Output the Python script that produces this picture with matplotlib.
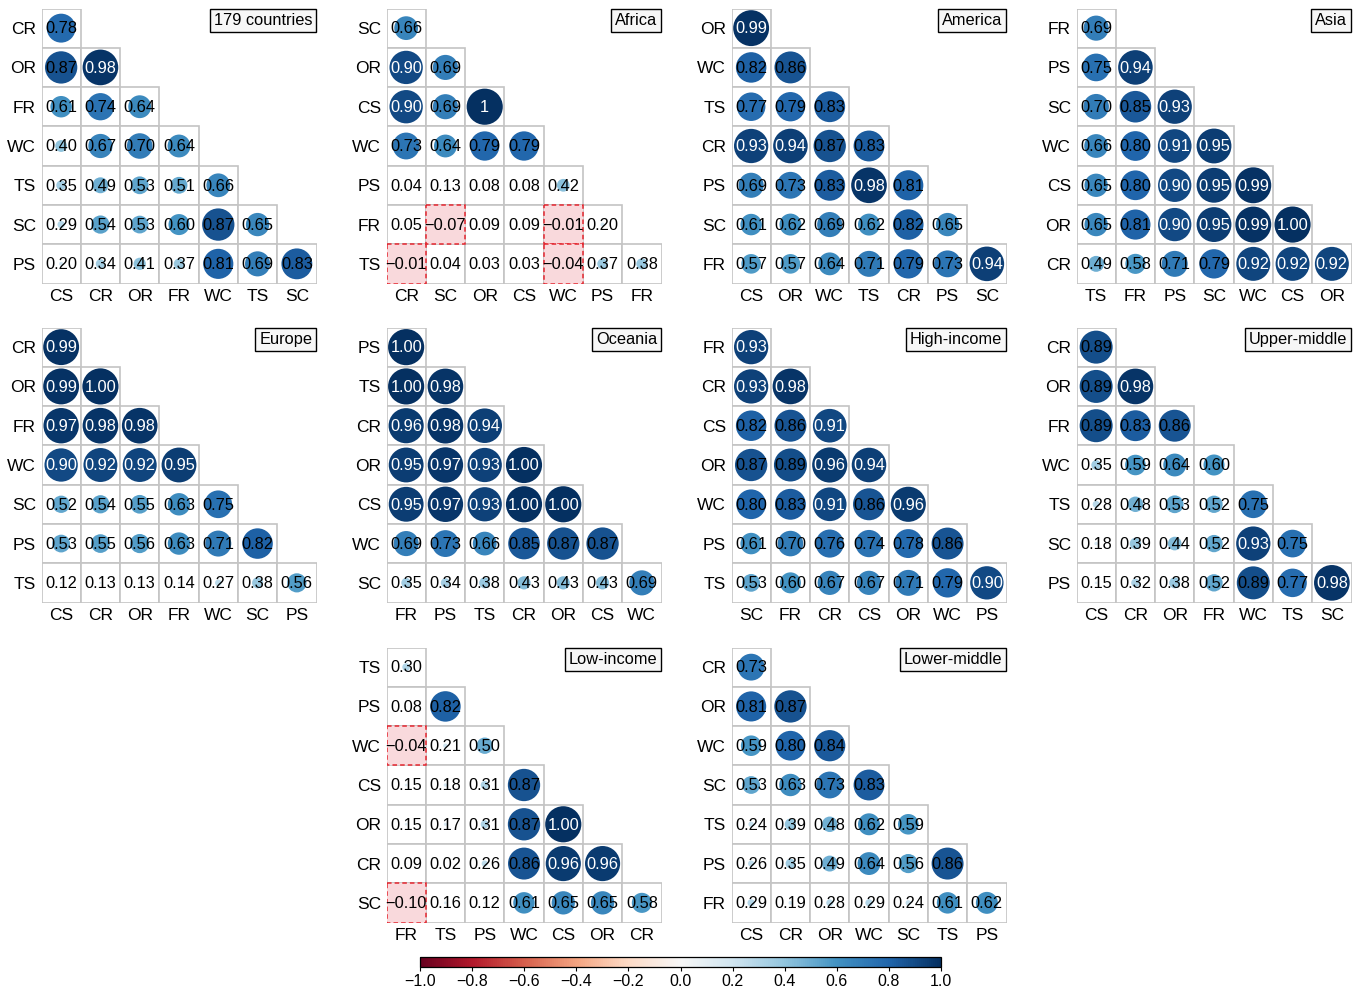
import numpy as np
import matplotlib
matplotlib.use("Agg")
import matplotlib.pyplot as plt
from matplotlib.patches import Rectangle, Circle
from matplotlib.colors import Normalize
from matplotlib.cm import ScalarMappable

plt.rcParams['font.family'] = ['Liberation Sans', 'DejaVu Sans']

# ---------------- data ----------------
titles = ["179 countries", "Africa", "America", "Asia",
          "Europe", "Oceania", "High-income", "Upper-middle",
          "Low-income", "Lower-middle"]

rows_all = "CR OR FR WC TS SC PS".split()
cols_all = "CS CR OR FR WC TS SC".split()
vals_all = [[0.78],
            [0.87, 0.98],
            [0.61, 0.74, 0.64],
            [0.40, 0.67, 0.70, 0.64],
            [0.35, 0.49, 0.53, 0.51, 0.66],
            [0.29, 0.54, 0.53, 0.60, 0.87, 0.65],
            [0.20, 0.34, 0.41, 0.37, 0.81, 0.69, 0.83]]

rows_africa = "SC OR CS WC PS FR TS".split()
cols_africa = "CR SC OR CS WC PS FR".split()
vals_africa = [[0.66],
               [0.90, 0.69],
               [0.90, 0.69, 1],
               [0.73, 0.64, 0.79, 0.79],
               [0.04, 0.13, 0.08, 0.08, 0.42],
               [0.05, -0.07, 0.09, 0.09, -0.01, 0.20],
               [-0.01, 0.04, 0.03, 0.03, -0.04, 0.37, 0.38]]

rows_america = "OR WC TS CR PS SC FR".split()
cols_america = "CS OR WC TS CR PS SC".split()
vals_america = [[0.99],
                [0.82, 0.86],
                [0.77, 0.79, 0.83],
                [0.93, 0.94, 0.87, 0.83],
                [0.69, 0.73, 0.83, 0.98, 0.81],
                [0.61, 0.62, 0.69, 0.62, 0.82, 0.65],
                [0.57, 0.57, 0.64, 0.71, 0.79, 0.73, 0.94]]

rows_asia = "FR PS SC WC CS OR CR".split()
cols_asia = "TS FR PS SC WC CS OR".split()
vals_asia = [[0.69],
             [0.75, 0.94],
             [0.70, 0.85, 0.93],
             [0.66, 0.80, 0.91, 0.95],
             [0.65, 0.80, 0.90, 0.95, 0.99],
             [0.65, 0.81, 0.90, 0.95, 0.99, 1.00],
             [0.49, 0.58, 0.71, 0.79, 0.92, 0.92, 0.92]]

rows_europe = "CR OR FR WC SC PS TS".split()
cols_europe = "CS CR OR FR WC SC PS".split()
vals_europe = [[0.99],
               [0.99, 1.00],
               [0.97, 0.98, 0.98],
               [0.90, 0.92, 0.92, 0.95],
               [0.52, 0.54, 0.55, 0.63, 0.75],
               [0.53, 0.55, 0.56, 0.63, 0.71, 0.82],
               [0.12, 0.13, 0.13, 0.14, 0.27, 0.38, 0.56]]

rows_oceania = "PS TS CR OR CS WC SC".split()
cols_oceania = "FR PS TS CR OR CS WC".split()
vals_oceania = [[1.00],
                [1.00, 0.98],
                [0.96, 0.98, 0.94],
                [0.95, 0.97, 0.93, 1.00],
                [0.95, 0.97, 0.93, 1.00, 1.00],
                [0.69, 0.73, 0.66, 0.85, 0.87, 0.87],
                [0.35, 0.34, 0.38, 0.43, 0.43, 0.43, 0.69]]

rows_high = "FR CR CS OR WC PS TS".split()
cols_high = "SC FR CR CS OR WC PS".split()
vals_high = [[0.93],
             [0.93, 0.98],
             [0.82, 0.86, 0.91],
             [0.87, 0.89, 0.96, 0.94],
             [0.80, 0.83, 0.91, 0.86, 0.96],
             [0.61, 0.70, 0.76, 0.74, 0.78, 0.86],
             [0.53, 0.60, 0.67, 0.67, 0.71, 0.79, 0.90]]

rows_upper = "CR OR FR WC TS SC PS".split()
cols_upper = "CS CR OR FR WC TS SC".split()
vals_upper = [[0.89],
              [0.89, 0.98],
              [0.89, 0.83, 0.86],
              [0.35, 0.59, 0.64, 0.60],
              [0.28, 0.48, 0.53, 0.52, 0.75],
              [0.18, 0.39, 0.44, 0.52, 0.93, 0.75],
              [0.15, 0.32, 0.38, 0.52, 0.89, 0.77, 0.98]]

rows_low = "TS PS WC CS OR CR SC".split()
cols_low = "FR TS PS WC CS OR CR".split()
vals_low = [[0.30],
            [0.08, 0.82],
            [-0.04, 0.21, 0.50],
            [0.15, 0.18, 0.31, 0.87],
            [0.15, 0.17, 0.31, 0.87, 1.00],
            [0.09, 0.02, 0.26, 0.86, 0.96, 0.96],
            [-0.10, 0.16, 0.12, 0.61, 0.65, 0.65, 0.58]]

rows_lower = "CR OR WC SC TS PS FR".split()
cols_lower = "CS CR OR WC SC TS PS".split()
vals_lower = [[0.73],
              [0.81, 0.87],
              [0.59, 0.80, 0.84],
              [0.53, 0.63, 0.73, 0.83],
              [0.24, 0.39, 0.48, 0.62, 0.59],
              [0.26, 0.35, 0.49, 0.64, 0.56, 0.86],
              [0.29, 0.19, 0.28, 0.29, 0.24, 0.61, 0.62]]

panels = [
    (rows_all, cols_all, vals_all),
    (rows_africa, cols_africa, vals_africa),
    (rows_america, cols_america, vals_america),
    (rows_asia, cols_asia, vals_asia),
    (rows_europe, cols_europe, vals_europe),
    (rows_oceania, cols_oceania, vals_oceania),
    (rows_high, cols_high, vals_high),
    (rows_upper, cols_upper, vals_upper),
    (rows_low, cols_low, vals_low),
    (rows_lower, cols_lower, vals_lower),
]

# ---------------- layout ----------------
W, H = 1359, 989
fig = plt.figure(figsize=(W / 100, H / 100), dpi=100)
col_left = [41.5, 386.5, 731.5, 1076.5]
row_top = [8.5, 327.5, 647.5]
size = 275.0
slots = [(0, 0), (0, 1), (0, 2), (0, 3),
         (1, 0), (1, 1), (1, 2), (1, 3),
         (2, 1), (2, 2)]

cmap = plt.get_cmap('RdBu')
norm = Normalize(-1, 1)


def fmt(v):
    if isinstance(v, int):
        return str(v)
    s = f"{v:.2f}"
    return s.replace("-", "\u2212")


def rad(v):
    x = min(abs(v), 1.0)
    g = 0.5 * (3 * x ** 2 - 2 * x ** 3) + 0.5 * x ** 1.3
    return 0.46 * g


for (rows, cols, vals), title, (r, c) in zip(panels, titles, slots):
    left = col_left[c]
    top = row_top[r]
    ax = fig.add_axes([left / W, 1 - (top + size) / H, size / W, size / H])
    ax.set_xlim(0, 7)
    ax.set_ylim(7, 0)
    for sp in ax.spines.values():
        sp.set_visible(False)
    for i, rowvals in enumerate(vals):
        for j, v in enumerate(rowvals):
            ax.add_patch(Rectangle((j, i), 1, 1, facecolor='white',
                                   edgecolor='#c4c4c4', lw=1.2, zorder=1))
    for i, rowvals in enumerate(vals):
        for j, v in enumerate(rowvals):
            if v < 0:
                ax.add_patch(Rectangle((j, i), 1, 1, facecolor='#f9d9dc',
                                       edgecolor='#e3262f', lw=1.1,
                                       linestyle=(0, (3, 2)), zorder=2))
            ax.add_patch(Circle((j + 0.5, i + 0.5), rad(v),
                                facecolor=cmap(norm(v)), edgecolor='none',
                                zorder=3))
            tc = 'white' if v >= 0.895 else 'black'
            ax.text(j + 0.5, i + 0.52, fmt(v), ha='center', va='center',
                    fontsize=11.8, color=tc, zorder=4)
    ax.set_xticks(np.arange(7) + 0.5)
    ax.set_xticklabels(cols, fontsize=12.5)
    ax.set_yticks(np.arange(7) + 0.5)
    ax.set_yticklabels(rows, fontsize=12.5)
    ax.tick_params(length=0, pad=4)
    ax.annotate(title, xy=(1, 1), xycoords='axes fraction',
                xytext=(-3, -3), textcoords='offset points',
                ha='right', va='top', fontsize=11.8,
                bbox=dict(boxstyle='square,pad=0.25', facecolor='#f7f7f7',
                          edgecolor='black', lw=1.0), zorder=5)

# ---------------- colorbar ----------------
cax = fig.add_axes([420 / W, 1 - 967 / H, 521 / W, 10 / H])
sm = ScalarMappable(norm=norm, cmap=cmap)
ticks = np.round(np.arange(-1.0, 1.01, 0.2), 1)
cb = fig.colorbar(sm, cax=cax, orientation='horizontal', ticks=ticks)
labels = []
for t in ticks:
    t = 0.0 if abs(t) < 1e-9 else t
    labels.append(f"{t:.1f}".replace("-", "\u2212"))
cb.ax.set_xticklabels(labels)
cb.ax.tick_params(labelsize=11.5, length=3, width=0.8, pad=2)
cb.outline.set_linewidth(0.9)

fig.savefig("out.png", dpi=100)
